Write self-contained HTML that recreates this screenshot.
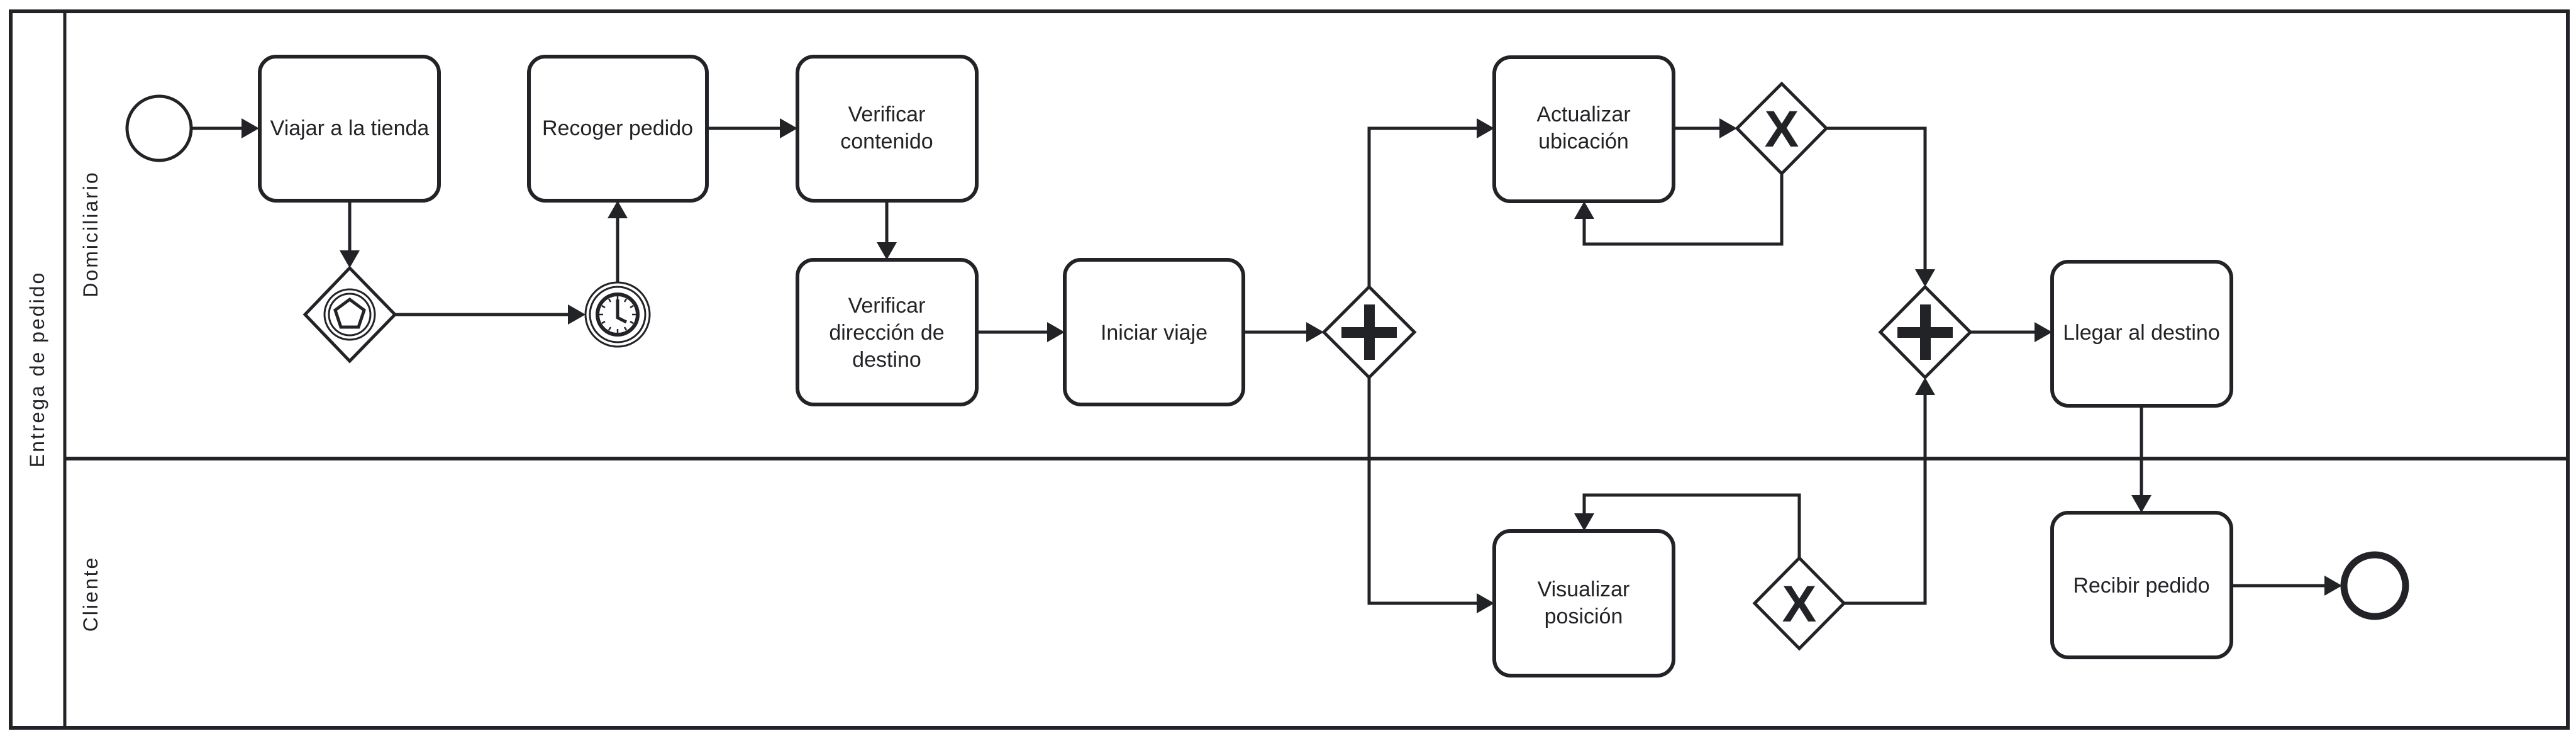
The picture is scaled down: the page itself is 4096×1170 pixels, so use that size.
<!DOCTYPE html>
<html><head><meta charset="utf-8"><style>
html,body{margin:0;padding:0;background:#fff;}
svg{display:block;}
text{font-family:"Liberation Sans",Arial,sans-serif;fill:#222327;}
</style></head><body>
<svg width="4096" height="1170" viewBox="0 0 4096 1170" xmlns="http://www.w3.org/2000/svg">
<g stroke="#222327" fill="none">
<rect x="17" y="18" width="4066" height="1139" stroke-width="6"/>
<line x1="103" y1="18" x2="103" y2="1157" stroke-width="5"/>
<line x1="103" y1="729" x2="4083" y2="729" stroke-width="6"/>
</g>
<text x="0" y="0" font-size="32" letter-spacing="3" text-anchor="middle" transform="translate(70,587) rotate(-90)">Entrega de pedido</text>
<text x="0" y="0" font-size="32" letter-spacing="3" text-anchor="middle" transform="translate(155,372) rotate(-90)">Domiciliario</text>
<text x="0" y="0" font-size="32" letter-spacing="3" text-anchor="middle" transform="translate(155,944) rotate(-90)">Cliente</text>

<g stroke="#222327" stroke-width="5" fill="none">
<path d="M304 204 H388"/>
<path d="M556 319 V402"/>
<path d="M628 500 H906"/>
<path d="M982 449 V344"/>
<path d="M1123 204 H1244"/>
<path d="M1410 319 V389"/>
<path d="M1553 528 H1669"/>
<path d="M1977 528 H2081"/>
<path d="M2177 456 V204 H2352"/>
<path d="M2177 600 V959 H2352"/>
<path d="M2661 204 H2738"/>
<path d="M2833 276 V388 H2519 V345"/>
<path d="M2904 204 H3061 V432"/>
<path d="M2861 887 V787 H2519 V820"/>
<path d="M2932 959 H3061 V625"/>
<path d="M3133 528 H3239"/>
<path d="M3405 645 V791"/>
<path d="M3548 931 H3700"/>
</g>
<g fill="#222327">
<polygon points="412,204 384,188 384,220"/>
<polygon points="556,426 540,398 572,398"/>
<polygon points="931,500 903,484 903,516"/>
<polygon points="982,319 966,347 998,347"/>
<polygon points="1268,204 1240,188 1240,220"/>
<polygon points="1410,413 1394,385 1426,385"/>
<polygon points="1693,528 1665,512 1665,544"/>
<polygon points="2105,528 2077,512 2077,544"/>
<polygon points="2376,204 2348,188 2348,220"/>
<polygon points="2376,959 2348,943 2348,975"/>
<polygon points="2762,204 2734,188 2734,220"/>
<polygon points="2519,320 2503,348 2535,348"/>
<polygon points="3061,456 3045,428 3077,428"/>
<polygon points="2519,844 2503,816 2535,816"/>
<polygon points="3061,600 3045,628 3077,628"/>
<polygon points="3263,528 3235,512 3235,544"/>
<polygon points="3405,815 3389,787 3421,787"/>
<polygon points="3724,931 3696,915 3696,947"/>
</g>

<g stroke="#222327" stroke-width="6" fill="#fff">
<rect x="413" y="90" width="285" height="229" rx="26"/>
<rect x="841" y="90" width="283" height="229" rx="26"/>
<rect x="1268" y="90" width="285" height="229" rx="26"/>
<rect x="1268" y="413" width="285" height="230" rx="26"/>
<rect x="1693" y="413" width="284" height="230" rx="26"/>
<rect x="2376" y="91" width="285" height="229" rx="26"/>
<rect x="3263" y="416" width="285" height="229" rx="26"/>
<rect x="2376" y="844" width="285" height="230" rx="26"/>
<rect x="3263" y="815" width="285" height="230" rx="26"/>
</g>
<g font-size="34" text-anchor="middle">
<text x="556" y="215">Viajar a la tienda</text>
<text x="982" y="215">Recoger pedido</text>
<text x="1410" y="193">Verificar</text>
<text x="1410" y="236">contenido</text>
<text x="1410" y="497">Verificar</text>
<text x="1410" y="540">dirección de</text>
<text x="1410" y="583">destino</text>
<text x="1835" y="540">Iniciar viaje</text>
<text x="2518" y="193">Actualizar</text>
<text x="2518" y="236">ubicación</text>
<text x="3405" y="540">Llegar al destino</text>
<text x="2518" y="948">Visualizar</text>
<text x="2518" y="991">posición</text>
<text x="3405" y="942">Recibir pedido</text>
</g>

<g stroke="#222327" fill="#fff">
<circle cx="253" cy="204" r="51" stroke-width="5"/>
<circle cx="3776" cy="931" r="49" stroke-width="11"/>
<polygon points="556,426 628,500 556,574 485,500" stroke-width="5"/>
<circle cx="556" cy="500" r="40" stroke-width="3"/>
<circle cx="556" cy="500" r="33" stroke-width="3"/>
<polygon points="556,476 579,493 570,520 542,520 533,493" stroke-width="5"/>
<circle cx="982" cy="500" r="51" stroke-width="3"/>
<circle cx="982" cy="500" r="44" stroke-width="3"/>
<circle cx="982" cy="500" r="32" stroke-width="6"/>
<path d="M982 476 L982 505 L996 512" stroke-width="5" fill="none"/>
<g stroke-width="2.5">
<line x1="982" y1="471" x2="982" y2="477"/><line x1="982" y1="523" x2="982" y2="529"/>
<line x1="953" y1="500" x2="959" y2="500"/><line x1="1005" y1="500" x2="1011" y2="500"/>
<line x1="996" y1="475" x2="993" y2="480"/><line x1="1007" y1="486" x2="1002" y2="489"/>
<line x1="1007" y1="514" x2="1002" y2="511"/><line x1="996" y1="525" x2="993" y2="520"/>
<line x1="968" y1="525" x2="971" y2="520"/><line x1="957" y1="514" x2="962" y2="511"/>
<line x1="957" y1="486" x2="962" y2="489"/><line x1="968" y1="475" x2="971" y2="480"/>
</g>
<polygon points="2177,456 2249,528 2177,600 2105,528" stroke-width="5"/>
<polygon points="3061,456 3133,528 3061,600 2990,528" stroke-width="5"/>
<polygon points="2833,133 2904,204 2833,276 2762,204" stroke-width="5"/>
<polygon points="2861,887 2932,959 2861,1031 2790,959" stroke-width="5"/>
</g>
<g fill="#222327">
<rect x="2133" y="520" width="88" height="17"/><rect x="2169" y="484" width="17" height="88"/>
<rect x="3017" y="520" width="88" height="17"/><rect x="3053" y="484" width="17" height="88"/>
</g>
<g font-size="82" font-weight="bold" text-anchor="middle">
<text x="2833" y="233">X</text>
<text x="2861" y="988">X</text>
</g>
</svg>
</body></html>
